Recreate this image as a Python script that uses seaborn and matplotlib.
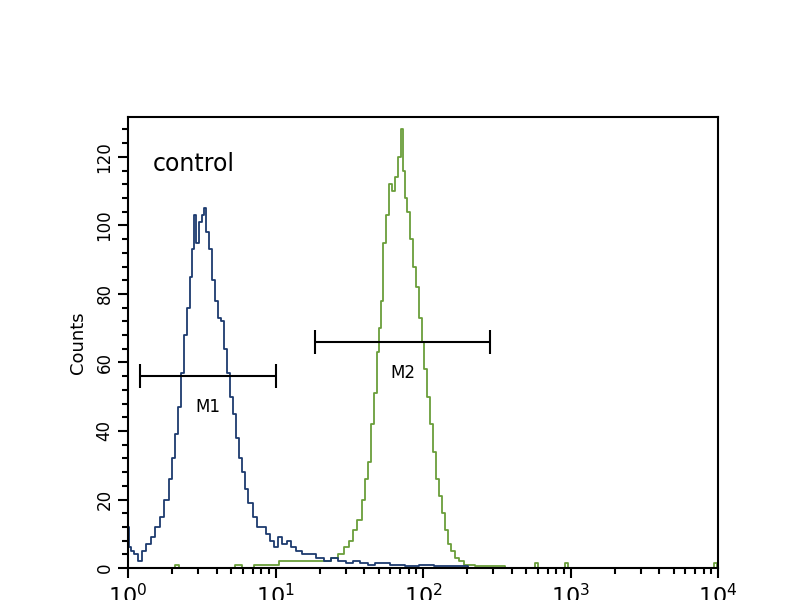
import numpy as np
import pandas as pd
import seaborn as sns
import matplotlib
matplotlib.use('Agg')
import matplotlib.pyplot as plt
from matplotlib.ticker import LogLocator, MultipleLocator, NullFormatter

# histogram readings: position in decades (log10 of channel) and counts
blue_dec = [0.00, 0.01, 0.03, 0.05, 0.08, 0.11, 0.14, 0.17, 0.20, 0.23, 0.26, 0.29, 0.31,
            0.33, 0.35, 0.37, 0.39, 0.41, 0.43, 0.44, 0.45, 0.47, 0.49, 0.51, 0.52, 0.54,
            0.56, 0.58, 0.60, 0.62, 0.645, 0.66, 0.68, 0.70, 0.72, 0.74, 0.76, 0.78, 0.80,
            0.83, 0.86, 0.89, 0.92, 0.95, 0.98, 1.00, 1.03, 1.06, 1.09, 1.12, 1.16, 1.20,
            1.25, 1.30, 1.35, 1.40, 1.45, 1.50, 1.55, 1.60, 1.65, 1.70, 1.75, 1.80, 1.85,
            1.90, 1.95, 2.00, 2.05, 2.10, 2.15, 2.20, 2.25, 2.35, 2.6, 3.0, 3.5, 4.0]
blue_cnt = [12, 6, 5, 4, 2, 5, 7, 9, 12, 15, 20, 26, 32,
            39, 47, 57, 68, 76, 85, 93, 103, 95, 101, 103, 105, 98,
            93, 84, 78, 73, 72, 64, 57, 50, 45, 38, 32, 28, 23,
            19, 15, 12, 12, 10, 8, 6, 9, 7, 8, 6, 5, 4,
            4, 3, 2, 3, 2, 1.5, 2, 1.5, 1, 1.5, 1.5, 1, 1,
            0.5, 0.5, 1, 1, 0.5, 0.5, 0.5, 0.5, 0, 0, 0, 0, 0]

green_dec = [0.00, 0.30, 0.33, 0.36, 0.70, 0.75, 0.80, 0.90, 1.00, 1.05, 1.15, 1.25, 1.35,
             1.40, 1.45, 1.48, 1.51, 1.54, 1.57, 1.60, 1.62, 1.64, 1.66, 1.68, 1.70, 1.71,
             1.72, 1.74, 1.76, 1.78, 1.80, 1.82, 1.84, 1.86, 1.87, 1.88, 1.90, 1.92, 1.94,
             1.96, 1.98, 2.00, 2.02, 2.04, 2.06, 2.08, 2.10, 2.12, 2.14, 2.16, 2.18, 2.20,
             2.23, 2.26, 2.30, 2.40, 2.50, 2.60, 2.75, 2.77, 2.79, 2.95, 2.97, 2.99, 3.5,
             3.96, 3.98, 4.0]
green_cnt = [0, 0, 1, 0, 0, 1, 0, 1, 1, 2, 2, 2, 2,
             3, 4, 6, 8, 11, 14, 20, 26, 31, 42, 51, 63, 70,
             78, 95, 103, 112, 110, 114, 120, 128, 116, 108, 104, 96, 88,
             82, 73, 66, 58, 50, 42, 34, 26, 21, 16, 11, 7, 5,
             3, 2, 1, 0.5, 0.5, 0, 0, 1.5, 0, 0, 1.5, 0, 0,
             0, 1.5, 0]

# gate markers: (name, start decade, end decade, height)
m_names = ['M1', 'M2']
m_start = [0.08, 1.27]
m_end = [1.0, 2.455]
m_height = [56, 66]

blue_df = pd.DataFrame({'x': 10 ** np.array(blue_dec), 'y': blue_cnt})
green_df = pd.DataFrame({'x': 10 ** np.array(green_dec), 'y': green_cnt})

sns.set_style('ticks')
plt.rcParams['text.color'] = 'black'
plt.rcParams['axes.labelcolor'] = 'black'
plt.rcParams['xtick.color'] = 'black'
plt.rcParams['ytick.color'] = 'black'

fig = plt.figure(figsize=(8, 6), dpi=100)
ax = fig.add_axes([0.16, 0.0533, 0.7375, 0.752])

sns.lineplot(data=green_df, x='x', y='y', ax=ax, color='#6a9e3a', lw=1.3,
             drawstyle='steps-mid', sort=True, estimator=None)
sns.lineplot(data=blue_df, x='x', y='y', ax=ax, color='#1c3a6e', lw=1.3,
             drawstyle='steps-mid', sort=True, estimator=None)

for name, s, e, h in zip(m_names, m_start, m_end, m_height):
    ax.hlines(h, 10 ** s, 10 ** e, color='black', lw=1.5)
    ax.vlines([10 ** s, 10 ** e], h - 3.5, h + 3.5, color='black', lw=1.5)
    ax.text(10 ** ((s + e) / 2), h - 9, name, ha='center', va='center', fontsize=12,
            color='black')

ax.text(10 ** 0.17, 118, 'control', ha='left', va='center', fontsize=17, color='black')

ax.set_xscale('log')
ax.set_xlim(1, 1e4)
ax.set_ylim(0, 131.7)
ax.xaxis.set_major_locator(LogLocator(base=10, numticks=10))
ax.xaxis.set_minor_locator(LogLocator(base=10, subs=np.arange(2, 10), numticks=20))
ax.xaxis.set_minor_formatter(NullFormatter())
ax.set_xticks([1, 10, 100, 1000, 10000])
ax.set_xticklabels([r'$10^0$', r'$10^1$', r'$10^2$', r'$10^3$', r'$10^4$'], fontsize=16)
ax.yaxis.set_major_locator(MultipleLocator(20))
ax.yaxis.set_minor_locator(MultipleLocator(4))
ax.set_yticks([0, 20, 40, 60, 80, 100, 120])
ax.set_yticklabels(['0', '20', '40', '60', '80', '100', '120'], rotation=90,
                   va='center', fontsize=12)
ax.tick_params(which='major', direction='out', length=7, width=1.5, color='black',
               labelcolor='black')
ax.tick_params(which='minor', direction='out', length=4, width=1.5, color='black')
ax.set_xlabel('')
ax.set_ylabel('Counts', fontsize=13, labelpad=6, color='black')
for spine in ax.spines.values():
    spine.set_visible(True)
    spine.set_linewidth(1.5)
    spine.set_color('black')

fig.savefig('out.png', dpi=100, facecolor='white')
